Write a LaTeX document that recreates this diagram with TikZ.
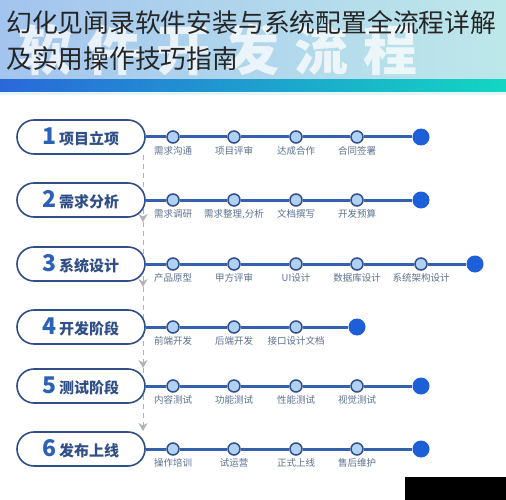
\documentclass[tikz,border=0pt]{standalone}
\usepackage{fontspec}
\setmainfont{Noto Sans CJK SC}
\newfontfamily\wmfont[LetterSpace=28]{Noto Sans CJK SC}
\usepackage{tikz}
\usetikzlibrary{positioning,arrows.meta}
\definecolor{navy}{HTML}{2F4F86}
\definecolor{numblue}{HTML}{2B62B8}
\definecolor{track}{HTML}{3560AB}
\definecolor{dotfill}{HTML}{B0D0F4}
\definecolor{endblue}{HTML}{1D5FD8}
\definecolor{tagtext}{HTML}{5D7190}
\definecolor{headl}{HTML}{A3C4EE}
\definecolor{headr}{HTML}{BDE8EA}
\definecolor{barl}{HTML}{2A68DA}
\definecolor{barr}{HTML}{12D6C2}
\newcommand\phase[1]{{\fontsize{23}{23}\selectfont\color{numblue}#1}\hspace{2pt}}

\begin{document}
\begin{tikzpicture}[x=1pt,y=-1pt,
                    stage/.style={draw=navy,line width=1.6pt,fill=white,rounded corners=17pt,minimum width=128pt,
                                  minimum height=34pt,inner sep=0pt,text=navy,font=\fontsize{15}{15}\selectfont\bfseries},
                    dot/.style={circle,draw=navy,line width=1.5pt,fill=dotfill,minimum size=12pt,inner sep=0pt},
                    stop/.style={circle,fill=endblue,minimum size=17pt,inner sep=0pt},
                    tag/.style={inner sep=1pt,text=tagtext,font=\fontsize{9.5}{9.5}\selectfont},
                    head/.style={anchor=base west,inner sep=0pt,text=black!85,font=\fontsize{25.8}{26}\selectfont},
                    link/.style={draw=track,line width=3pt},
                    flow/.style={draw=gray!60,line width=1pt,dash pattern=on 5pt off 4pt,
                                 -{Stealth[length=8pt,width=9pt]}}]
  \useasboundingbox (0,0) rectangle (506,500);
  \fill[white] (0,0) rectangle (506,500);
  \shade[left color=headl,right color=headr] (0,0) rectangle (506,80);
  \shade[left color=barl,right color=barr] (0,80) rectangle (506,92);
  \fill[headr!40] (0,92) rectangle (506,95);
  \node[anchor=west,inner sep=0pt,text=white,opacity=0.75,font=\wmfont\fontsize{54}{54}\selectfont\bfseries] (mark) at (18,50) {软件开发流程};
  \node[head] (title1) at (6,33) {幻化见闻录软件安装与系统配置全流程详解};
  \node[head] (title2) at (6,69) {及实用操作技巧指南};

  \coordinate (v0) at (143,155);
  \coordinate (v1) at (143,222);
  \coordinate (v2) at (143,287);
  \coordinate (v3) at (143,368);
  \coordinate (v4) at (143,431);
  \draw[flow] (v0)--(v1);
  \draw[flow] (v1)--(v2);
  \draw[flow] (v2)--(v3);
  \draw[flow] (v3)--(v4);

  \node[stage] (s1) at (81,137) {\phase{1}项目立项};
  \node[dot]   (a1) at (173,137) {};
  \node[dot]   (b1) at (234,137) {};
  \node[dot]   (c1) at (296,137) {};
  \node[dot]   (d1) at (357,137) {};
  \node[stop]  (z1) at (421,137) {};
  \node[tag,below=2pt of a1] (ta1) {需求沟通};
  \node[tag,below=2pt of b1] (tb1) {项目评审};
  \node[tag,below=2pt of c1] (tc1) {达成合作};
  \node[tag,below=2pt of d1] (td1) {合同签署};
  \draw[link] (s1)--(a1)--(b1)--(c1)--(d1)--(z1);

  \node[stage] (s2) at (81,200) {\phase{2}需求分析};
  \node[dot]   (a2) at (173,200) {};
  \node[dot]   (b2) at (234,200) {};
  \node[dot]   (c2) at (296,200) {};
  \node[dot]   (d2) at (357,200) {};
  \node[stop]  (z2) at (421,200) {};
  \node[tag,below=2pt of a2] (ta2) {需求调研};
  \node[tag,below=2pt of b2] (tb2) {需求整理,分析};
  \node[tag,below=2pt of c2] (tc2) {文档撰写};
  \node[tag,below=2pt of d2] (td2) {开发预算};
  \draw[link] (s2)--(a2)--(b2)--(c2)--(d2)--(z2);

  \node[stage] (s3) at (81,264) {\phase{3}系统设计};
  \node[dot]   (a3) at (173,264) {};
  \node[dot]   (b3) at (234,264) {};
  \node[dot]   (c3) at (296,264) {};
  \node[dot]   (d3) at (357,264) {};
  \node[dot]   (e3) at (421,264) {};
  \node[stop]  (z3) at (475,264) {};
  \node[tag,below=2pt of a3] (ta3) {产品原型};
  \node[tag,below=2pt of b3] (tb3) {甲方评审};
  \node[tag,below=2pt of c3] (tc3) {UI设计};
  \node[tag,below=2pt of d3] (td3) {数据库设计};
  \node[tag,below=2pt of e3] (te3) {系统架构设计};
  \draw[link] (s3)--(a3)--(b3)--(c3)--(d3)--(e3)--(z3);

  \node[stage] (s4) at (81,327) {\phase{4}开发阶段};
  \node[dot]   (a4) at (173,327) {};
  \node[dot]   (b4) at (234,327) {};
  \node[dot]   (c4) at (296,327) {};
  \node[stop]  (z4) at (357,327) {};
  \node[tag,below=2pt of a4] (ta4) {前端开发};
  \node[tag,below=2pt of b4] (tb4) {后端开发};
  \node[tag,below=2pt of c4] (tc4) {接口设计文档};
  \draw[link] (s4)--(a4)--(b4)--(c4)--(z4);

  \node[stage] (s5) at (81,386) {\phase{5}测试阶段};
  \node[dot]   (a5) at (173,386) {};
  \node[dot]   (b5) at (234,386) {};
  \node[dot]   (c5) at (296,386) {};
  \node[dot]   (d5) at (357,386) {};
  \node[stop]  (z5) at (421,386) {};
  \node[tag,below=2pt of a5] (ta5) {内容测试};
  \node[tag,below=2pt of b5] (tb5) {功能测试};
  \node[tag,below=2pt of c5] (tc5) {性能测试};
  \node[tag,below=2pt of d5] (td5) {视觉测试};
  \draw[link] (s5)--(a5)--(b5)--(c5)--(d5)--(z5);

  \node[stage] (s6) at (81,449) {\phase{6}发布上线};
  \node[dot]   (a6) at (173,449) {};
  \node[dot]   (b6) at (234,449) {};
  \node[dot]   (c6) at (296,449) {};
  \node[dot]   (d6) at (357,449) {};
  \node[stop]  (z6) at (421,449) {};
  \node[tag,below=2pt of a6] (ta6) {操作培训};
  \node[tag,below=2pt of b6] (tb6) {试运营};
  \node[tag,below=2pt of c6] (tc6) {正式上线};
  \node[tag,below=2pt of d6] (td6) {售后维护};
  \draw[link] (s6)--(a6)--(b6)--(c6)--(d6)--(z6);

  \fill[black] (405,477) rectangle (506,500);
\end{tikzpicture}
\end{document}
